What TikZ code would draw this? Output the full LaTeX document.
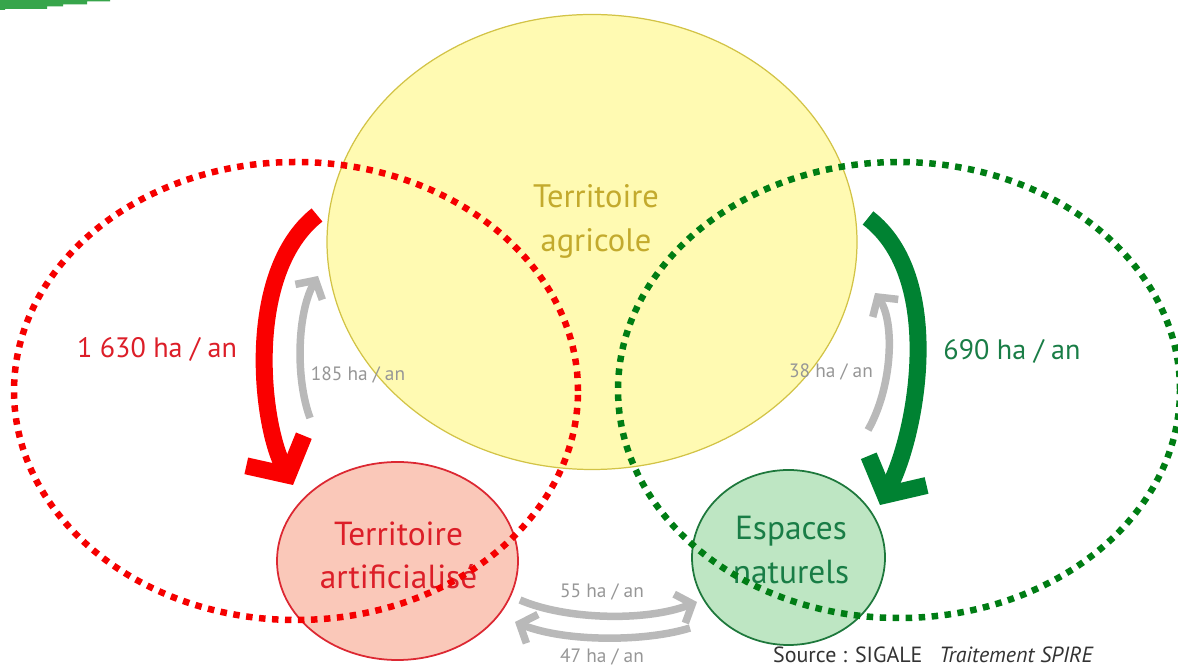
\documentclass[tikz,border=0pt]{standalone}
\usepackage{fontspec}
\setmainfont{PT Sans}
\usetikzlibrary{arrows.meta,shapes.geometric,positioning}
\definecolor{agrifill}{RGB}{255,250,178}
\definecolor{agriedge}{RGB}{210,195,70}
\definecolor{agritext}{RGB}{195,170,45}
\definecolor{artifill}{RGB}{250,200,185}
\definecolor{artiedge}{RGB}{220,40,50}
\definecolor{artitext}{RGB}{220,30,40}
\definecolor{natfill}{RGB}{190,230,195}
\definecolor{natedge}{RGB}{30,120,60}
\definecolor{nattext}{RGB}{25,125,70}
\definecolor{fluxred}{RGB}{250,0,0}
\definecolor{fluxgreen}{RGB}{0,130,50}
\definecolor{fluxgray}{RGB}{185,185,185}
\definecolor{labelgray}{RGB}{150,150,150}
\definecolor{dotred}{RGB}{245,0,0}
\definecolor{dotgreen}{RGB}{0,125,20}
\definecolor{headergreen}{RGB}{55,165,75}
\tikzset{
    territory/.style={ellipse, inner sep=0pt, align=center,
        font=\fontsize{19}{24.5}\selectfont},
    bigflux/.style={line width=0.34cm,
        -{Straight Barb[length=0.55cm,width=1.3cm]}},
    smallflux/.style={fluxgray, line width=0.15cm,
        -{Straight Barb[length=0.27cm,width=0.62cm]}},
    bignum/.style={font=\fontsize{16}{19}\selectfont},
    smallnum/.style={labelgray, font=\fontsize{11}{13}\selectfont},
    zone/.style={line width=3.7pt, dash pattern=on 3.7pt off 3.7pt},
}

\begin{document}
\begin{tikzpicture}
    \useasboundingbox (0,0) rectangle (23.56,13.34);

    % header fragment
    \fill[headergreen] (0,13.34) -- (2.2,13.34) -- (2.2,13.31) -- (1.74,13.31)
        -- (1.74,13.25) -- (1.26,13.25) -- (1.26,13.21) -- (0.94,13.21)
        -- (0.94,13.16) -- (0.1,13.16) -- (0.1,13.14) -- (0,13.14) -- cycle;

    %% Territories
    \node[territory, fill=agrifill, draw=agriedge, line width=0.7pt,
        minimum width=10.6cm, minimum height=9.1cm] (agri) at (11.84,8.50) {};
    \node[agritext, align=center, font=\fontsize{18.5}{25.5}\selectfont]
        (agrilabel) at (11.92,8.91) {Territoire\\agricole};
    \node[territory, fill=artifill, draw=artiedge, line width=1pt,
        minimum width=4.82cm, minimum height=3.96cm, text=artitext]
        (arti) at (7.95,2.12) {};
    \node[territory, text=artitext] (artilabel) at (7.97,2.24) {Territoire\\artificialisé};
    \node[territory, fill=natfill, draw=natedge, line width=1pt,
        minimum width=3.86cm, minimum height=3.5cm] (nat) at (15.77,2.19) {};
    \node[territory, text=nattext] (natlabel) at (15.82,2.34) {Espaces\\naturels};

    %% Flux ends
    \coordinate (redstart) at (6.34,9.04);
    \coordinate (redend) at (5.86,3.64);
    \coordinate (greystartl) at (6.20,4.98);
    \coordinate (greyendl) at (6.36,7.82);
    \coordinate (greenstart) at (17.36,8.98);
    \coordinate (greenend) at (17.60,3.24);
    \coordinate (greystartr) at (17.36,4.74);
    \coordinate (greyendr) at (17.50,7.48);
    \coordinate (bottomstart) at (10.40,1.34);
    \coordinate (bottomend) at (13.94,1.30);
    \coordinate (backstart) at (13.80,0.78);
    \coordinate (backend) at (10.30,0.90);

    %% Flux arrows
    \draw[bigflux, fluxred] (redstart) .. controls (4.9,7.9) and (5.2,4.9) .. (redend);
    \draw[smallflux] (greystartl) .. controls (5.9,5.8) and (5.95,7.1) .. (greyendl);
    \draw[bigflux, fluxgreen] (greenstart) .. controls (18.9,7.8) and (18.35,4.7) .. (greenend);
    \draw[smallflux] (greystartr) .. controls (17.85,5.6) and (17.9,6.9) .. (greyendr);
    \draw[smallflux] (bottomstart) .. controls (11.3,0.95) and (12.9,0.9) .. (bottomend);
    \draw[smallflux] (backstart) .. controls (12.9,0.5) and (11.3,0.5) .. (backend);

    %% Labels
    \node[bignum, artitext] (redlabel) at (3.14,6.36) {1 630 ha / an};
    \node[bignum, nattext] (greenlabel) at (20.24,6.32) {690 ha / an};
    \node[smallnum] (greylabell) at (7.16,5.84) {185 ha / an};
    \node[smallnum] (greylabelr) at (16.62,5.90) {38 ha / an};
    \node[smallnum] (bottomlabel) at (12.04,1.50) {55 ha / an};
    \node[smallnum] (backlabel) at (12.04,0.20) {47 ha / an};
    \node[anchor=west, font=\fontsize{12.5}{14}\selectfont, text=black!80]
        (source) at (15.34,0.24) {Source : SIGALE \enspace\textit{Traitement SPIRE}};

    %% Zones
    \draw[zone, dotred] (5.92,5.52) ellipse [x radius=5.64, y radius=4.58];
    \draw[zone, dotgreen] (17.98,5.54) ellipse [x radius=5.62, y radius=4.56];
\end{tikzpicture}
\end{document}
